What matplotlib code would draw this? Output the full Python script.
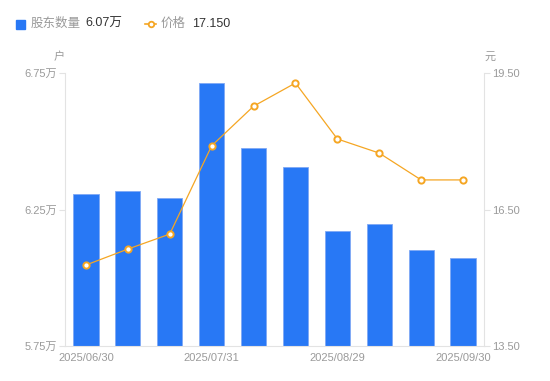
import numpy as np
import matplotlib.pyplot as plt

plt.rcParams['font.family'] = ['Liberation Sans', 'Noto Sans CJK SC', 'DejaVu Sans']

dates = ['2025/06/30', '2025/07/15', '2025/07/20', '2025/07/31', '2025/08/10',
         '2025/08/20', '2025/08/29', '2025/09/10', '2025/09/20', '2025/09/30']
holders = [6.307, 6.318, 6.292, 6.713, 6.475, 6.406, 6.171, 6.197, 6.102, 6.072]
price = [15.28, 15.63, 15.96, 17.90, 18.77, 19.28, 18.05, 17.74, 17.15, 17.15]
left_ticks = [5.75, 6.25, 6.75]
right_ticks = [13.50, 16.50, 19.50]
shown_labels = [0, 3, 6, 9]

blue = '#2878F5'
orange = '#F5A623'
gray = '#9a9a9a'
axcol = '#e3e3e3'

fig = plt.figure(figsize=(5.5, 3.81), dpi=100)
ax = fig.add_axes([65/550, 1-346/381, (484-65)/550, (346-73)/381])
x = np.arange(len(dates))
ax.bar(x, [h - left_ticks[0] for h in holders], bottom=left_ticks[0], width=0.6,
       color=blue, edgecolor='#7fa9f5', linewidth=0.6, zorder=2)
ax.set_xlim(-0.5, len(dates) - 0.5)
ax.set_ylim(left_ticks[0], left_ticks[-1])
ax.set_yticks(left_ticks)
ax.set_yticklabels([f'{t:.2f}万' for t in left_ticks])
ax.set_xticks(shown_labels)
ax.set_xticklabels([dates[i] for i in shown_labels])

ax2 = ax.twinx()
ax2.plot(x, price, color=orange, linewidth=0.9, marker='o', markersize=4.5,
         markerfacecolor='white', markeredgecolor=orange, markeredgewidth=1.4, zorder=3)
ax2.set_ylim(right_ticks[0], right_ticks[-1])
ax2.set_yticks(right_ticks)
ax2.set_yticklabels([f'{t:.2f}' for t in right_ticks])

for a in (ax, ax2):
    for s in a.spines.values():
        s.set_visible(False)
    a.tick_params(colors=axcol, labelcolor=gray, labelsize=8, length=4, width=0.8)
ax.spines['left'].set_visible(True)
ax.spines['left'].set_color(axcol)
ax.spines['bottom'].set_visible(True)
ax.spines['bottom'].set_color(axcol)
ax2.spines['right'].set_visible(True)
ax2.spines['right'].set_color(axcol)
ax.tick_params(axis='x', length=0, pad=5)
ax.tick_params(axis='y', pad=2)
ax2.tick_params(axis='y', pad=2)

fig.text(59/550, 1-57/381, '户', color=gray, fontsize=8, ha='center', va='center')
fig.text(490/550, 1-57/381, '元', color=gray, fontsize=8, ha='center', va='center')

# legend
fig.patches.append(plt.Rectangle((16/550, 1-29/381), 9/550, 9/381, transform=fig.transFigure,
                                 color=blue, figure=fig))
fig.text(31/550, 1-24/381, '股东数量', color=gray, fontsize=9, va='center')
fig.text(85/550, 1-24/381, f'{holders[-1]:.2f}万', color='#333333', fontsize=9, va='center')
fig.lines.append(plt.Line2D([145/550, 150.5/550, 156/550], [1-24/381] * 3, transform=fig.transFigure,
                            color=orange, linewidth=1.2, marker='o', markersize=4,
                            markerfacecolor='white', markeredgecolor=orange, markeredgewidth=1.3,
                            markevery=[1], figure=fig))
fig.text(161/550, 1-24/381, '价格', color=gray, fontsize=9, va='center')
fig.text(192/550, 1-24/381, f'{price[-1]:.3f}', color='#333333', fontsize=9, va='center')

fig.savefig('out.png', dpi=100)
